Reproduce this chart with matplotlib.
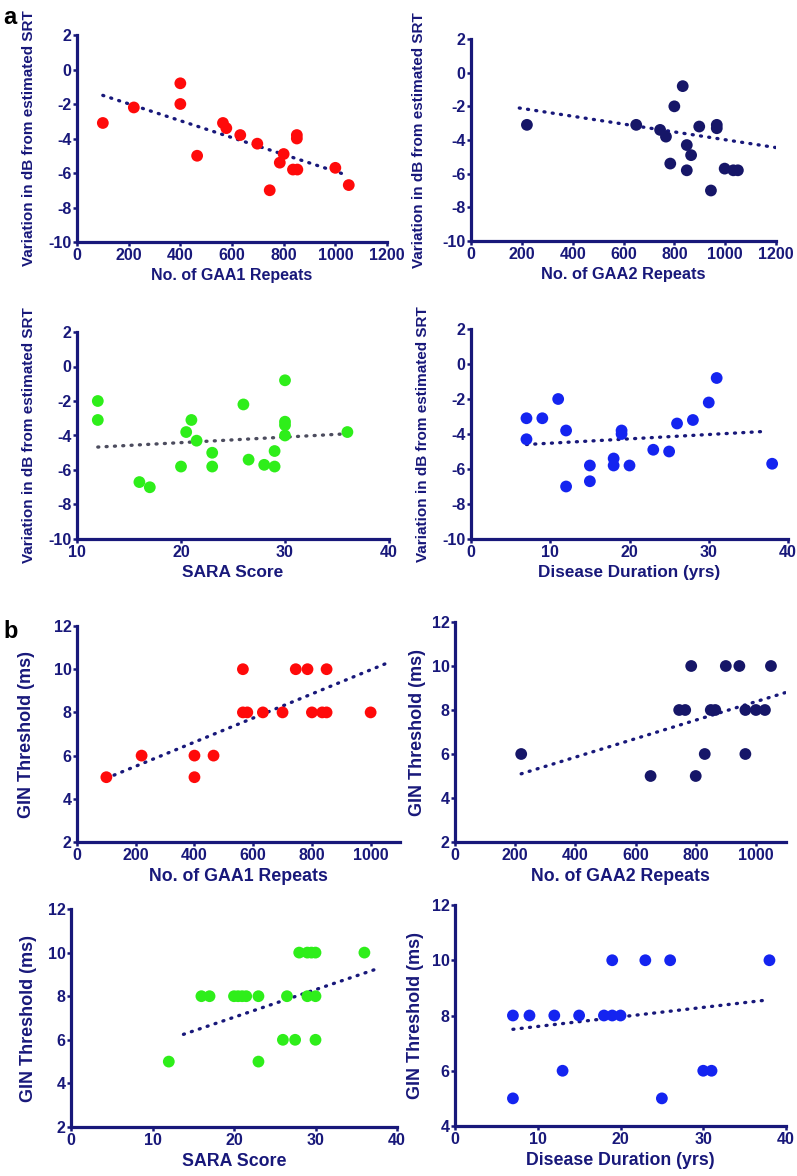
"""Auditory measures vs repeat length / SARA / disease duration (panels a and b)."""

import matplotlib
matplotlib.use("Agg")
import matplotlib.pyplot as plt

NAVY = "#18187a"
RED = "#ff0a0a"
DARKNAVY = "#161668"
GREEN = "#2eee1a"
BLUE = "#1424f0"

# ---- panel a: variation in dB from estimated SRT ----
a1_x = [100, 220, 400, 400, 465, 565, 578, 632, 698, 746, 785, 800, 836, 853, 851, 851, 1000, 1052]
a1_y = [-3.1, -2.2, -0.8, -2.0, -5.0, -3.1, -3.4, -3.8, -4.3, -7.0, -5.4, -4.9, -5.8, -5.8, -3.8, -4.0, -5.7, -6.7]
a1_fit_x = [100, 1050]
a1_fit_y = [-1.5, -6.15]

a2_x = [220, 650, 744, 767, 833, 800, 784, 849, 866, 849, 898, 967, 967, 944, 998, 1032, 1050]
a2_y = [-3.1, -3.1, -3.4, -3.8, -0.8, -2.0, -5.4, -4.3, -4.9, -5.8, -3.2, -3.1, -3.3, -7.0, -5.7, -5.8, -5.8]
a2_fit_x = [190, 1200]
a2_fit_y = [-2.1, -4.45]

a3_x = [12, 12, 16, 17, 20, 20.5, 21, 21.5, 23, 23, 26, 26.5, 28, 29, 29, 30, 30, 30, 30, 36]
a3_y = [-2.0, -3.1, -6.7, -7.0, -5.8, -3.8, -3.1, -4.3, -5.0, -5.8, -2.2, -5.4, -5.7, -4.9, -5.8, -0.8, -3.2, -3.4, -4.0, -3.8]
a3_fit_x = [12, 36]
a3_fit_y = [-4.67, -3.9]

a4_x = [7, 7, 9, 11, 12, 12, 15, 15, 18, 18, 19, 19, 20, 23, 25, 26, 28, 30, 31, 38]
a4_y = [-3.1, -4.3, -3.1, -2.0, -3.8, -7.0, -5.8, -6.7, -5.4, -5.8, -3.8, -4.0, -5.8, -4.9, -5.0, -3.4, -3.2, -2.2, -0.8, -5.7]
a4_fit_x = [7, 37.2]
a4_fit_y = [-4.6, -3.85]

# ---- panel b: GIN threshold ----
b1_x = [100, 220, 400, 400, 465, 565, 565, 580, 633, 700, 745, 785, 800, 835, 850, 850, 1000]
b1_y = [5, 6, 6, 5, 6, 10, 8, 8, 8, 8, 10, 10, 8, 8, 8, 10, 8]
b1_fit_x = [100, 1050]
b1_fit_y = [4.95, 10.25]

b2_x = [220, 650, 745, 765, 785, 800, 830, 850, 865, 900, 945, 965, 965, 1000, 1030, 1050]
b2_y = [6, 5, 8, 8, 10, 5, 6, 8, 8, 10, 10, 8, 6, 8, 8, 10]
b2_fit_x = [220, 1100]
b2_fit_y = [5.1, 8.8]

b3_x = [12, 16, 17, 20, 20.5, 21, 21.5, 23, 23, 26, 26.5, 27.5, 28, 29, 29, 29.5, 30, 30, 30, 36]
b3_y = [5, 8, 8, 8, 8, 8, 8, 8, 5, 6, 8, 6, 10, 10, 8, 10, 10, 8, 6, 10]
b3_fit_x = [13.8, 37.9]
b3_fit_y = [6.25, 9.3]

b4_x = [7, 7, 9, 12, 13, 15, 18, 19, 19, 20, 23, 25, 26, 30, 31, 38]
b4_y = [8, 5, 8, 8, 6, 8, 8, 8, 10, 8, 10, 5, 10, 6, 6, 10]
b4_fit_x = [7, 37.7]
b4_fit_y = [7.5, 8.56]

SRT_LABEL = "Variation in dB from estimated SRT"
GIN_LABEL = "GIN Threshold (ms)"

W, H = 797, 1176


def _add_axes(fig, left, right, top, bottom):
    return fig.add_axes([left / W, 1 - bottom / H, (right - left) / W, (bottom - top) / H])


def _panel(fig, box, xs, ys, fx, fy, color, line_color, xlim, xticks, ylim, yticks,
           xlabel, ylabel, ylab_off, xlab_size, ylab_size):
    ax = _add_axes(fig, *box)
    ax.scatter(xs, ys, s=72, color=color, edgecolors="none", zorder=3, clip_on=False)
    ax.plot(fx, fy, color=line_color, linewidth=2.4, linestyle=(0, (0.3, 2.2)),
            dash_capstyle="round", zorder=2)
    ax.set_xlim(*xlim)
    ax.set_ylim(*ylim)
    ax.set_xticks(xticks)
    ax.set_yticks(yticks)
    for side in ("top", "right"):
        ax.spines[side].set_visible(False)
    for side in ("left", "bottom"):
        ax.spines[side].set_color(NAVY)
        ax.spines[side].set_linewidth(2.3)
    ax.tick_params(colors=NAVY, width=1.8, length=3, pad=1, labelsize=11.5)
    ax.set_xlabel(xlabel, fontsize=xlab_size, color=NAVY, labelpad=4)
    ax.set_ylabel(ylabel, fontsize=ylab_size, color=NAVY, va="center")
    # label offset given in pixels left of the y axis
    ax.yaxis.set_label_coords(-ylab_off / (box[1] - box[0]), 0.5)
    return ax


def main():
    plt.rcParams["font.family"] = ["Liberation Sans", "DejaVu Sans"]
    plt.rcParams["font.weight"] = "bold"
    plt.rcParams["axes.labelweight"] = "bold"
    plt.rcParams["axes.unicode_minus"] = False
    fig = plt.figure(figsize=(W / 100, H / 100), dpi=100)
    fig.patch.set_facecolor("white")

    srt_ticks = [-10, -8, -6, -4, -2, 0, 2]
    _panel(fig, (77, 387, 35, 242), a1_x, a1_y, a1_fit_x, a1_fit_y, RED, NAVY,
           (0, 1200), range(0, 1201, 200), (-10, 2), srt_ticks,
           "No. of GAA1 Repeats", SRT_LABEL, 48, 11.5, 11)
    _panel(fig, (471, 776, 39, 241), a2_x, a2_y, a2_fit_x, a2_fit_y, DARKNAVY, NAVY,
           (0, 1200), range(0, 1201, 200), (-10, 2), srt_ticks,
           "No. of GAA2 Repeats", SRT_LABEL, 52, 11.8, 11)
    _panel(fig, (77, 389, 332, 539), a3_x, a3_y, a3_fit_x, a3_fit_y, GREEN, "#4c4c5e",
           (10, 40), [10, 20, 30, 40], (-10, 2), srt_ticks,
           "SARA Score", SRT_LABEL, 48, 12.5, 11)
    _panel(fig, (471, 788, 329, 539), a4_x, a4_y, a4_fit_x, a4_fit_y, BLUE, NAVY,
           (0, 40), [0, 10, 20, 30, 40], (-10, 2), srt_ticks,
           "Disease Duration (yrs)", SRT_LABEL, 48, 12.3, 11)

    gin_ticks = [2, 4, 6, 8, 10, 12]
    _panel(fig, (77, 400, 626, 842), b1_x, b1_y, b1_fit_x, b1_fit_y, RED, NAVY,
           (0, 1100), range(0, 1001, 200), (2, 12), gin_ticks,
           "No. of GAA1 Repeats", GIN_LABEL, 50, 12.8, 13)
    _panel(fig, (455, 786, 622, 842), b2_x, b2_y, b2_fit_x, b2_fit_y, DARKNAVY, NAVY,
           (0, 1100), range(0, 1001, 200), (2, 12), gin_ticks,
           "No. of GAA2 Repeats", GIN_LABEL, 38, 12.8, 13)
    _panel(fig, (71, 397, 909, 1127), b3_x, b3_y, b3_fit_x, b3_fit_y, GREEN, NAVY,
           (0, 40), [0, 10, 20, 30, 40], (2, 12), gin_ticks,
           "SARA Score", GIN_LABEL, 42, 12.8, 13)
    _panel(fig, (455, 786, 905, 1126), b4_x, b4_y, b4_fit_x, b4_fit_y, BLUE, NAVY,
           (0, 40), [0, 10, 20, 30, 40], (4, 12), [4, 6, 8, 10, 12],
           "Disease Duration (yrs)", GIN_LABEL, 40, 12.8, 13)

    fig.text(3 / W, 1 - 24 / H, "a", fontsize=17, color="black")
    fig.text(3 / W, 1 - 638 / H, "b", fontsize=17, color="black")

    fig.savefig("out.png", dpi=100, facecolor="white")
    plt.close(fig)


if __name__ == "__main__":
    main()
